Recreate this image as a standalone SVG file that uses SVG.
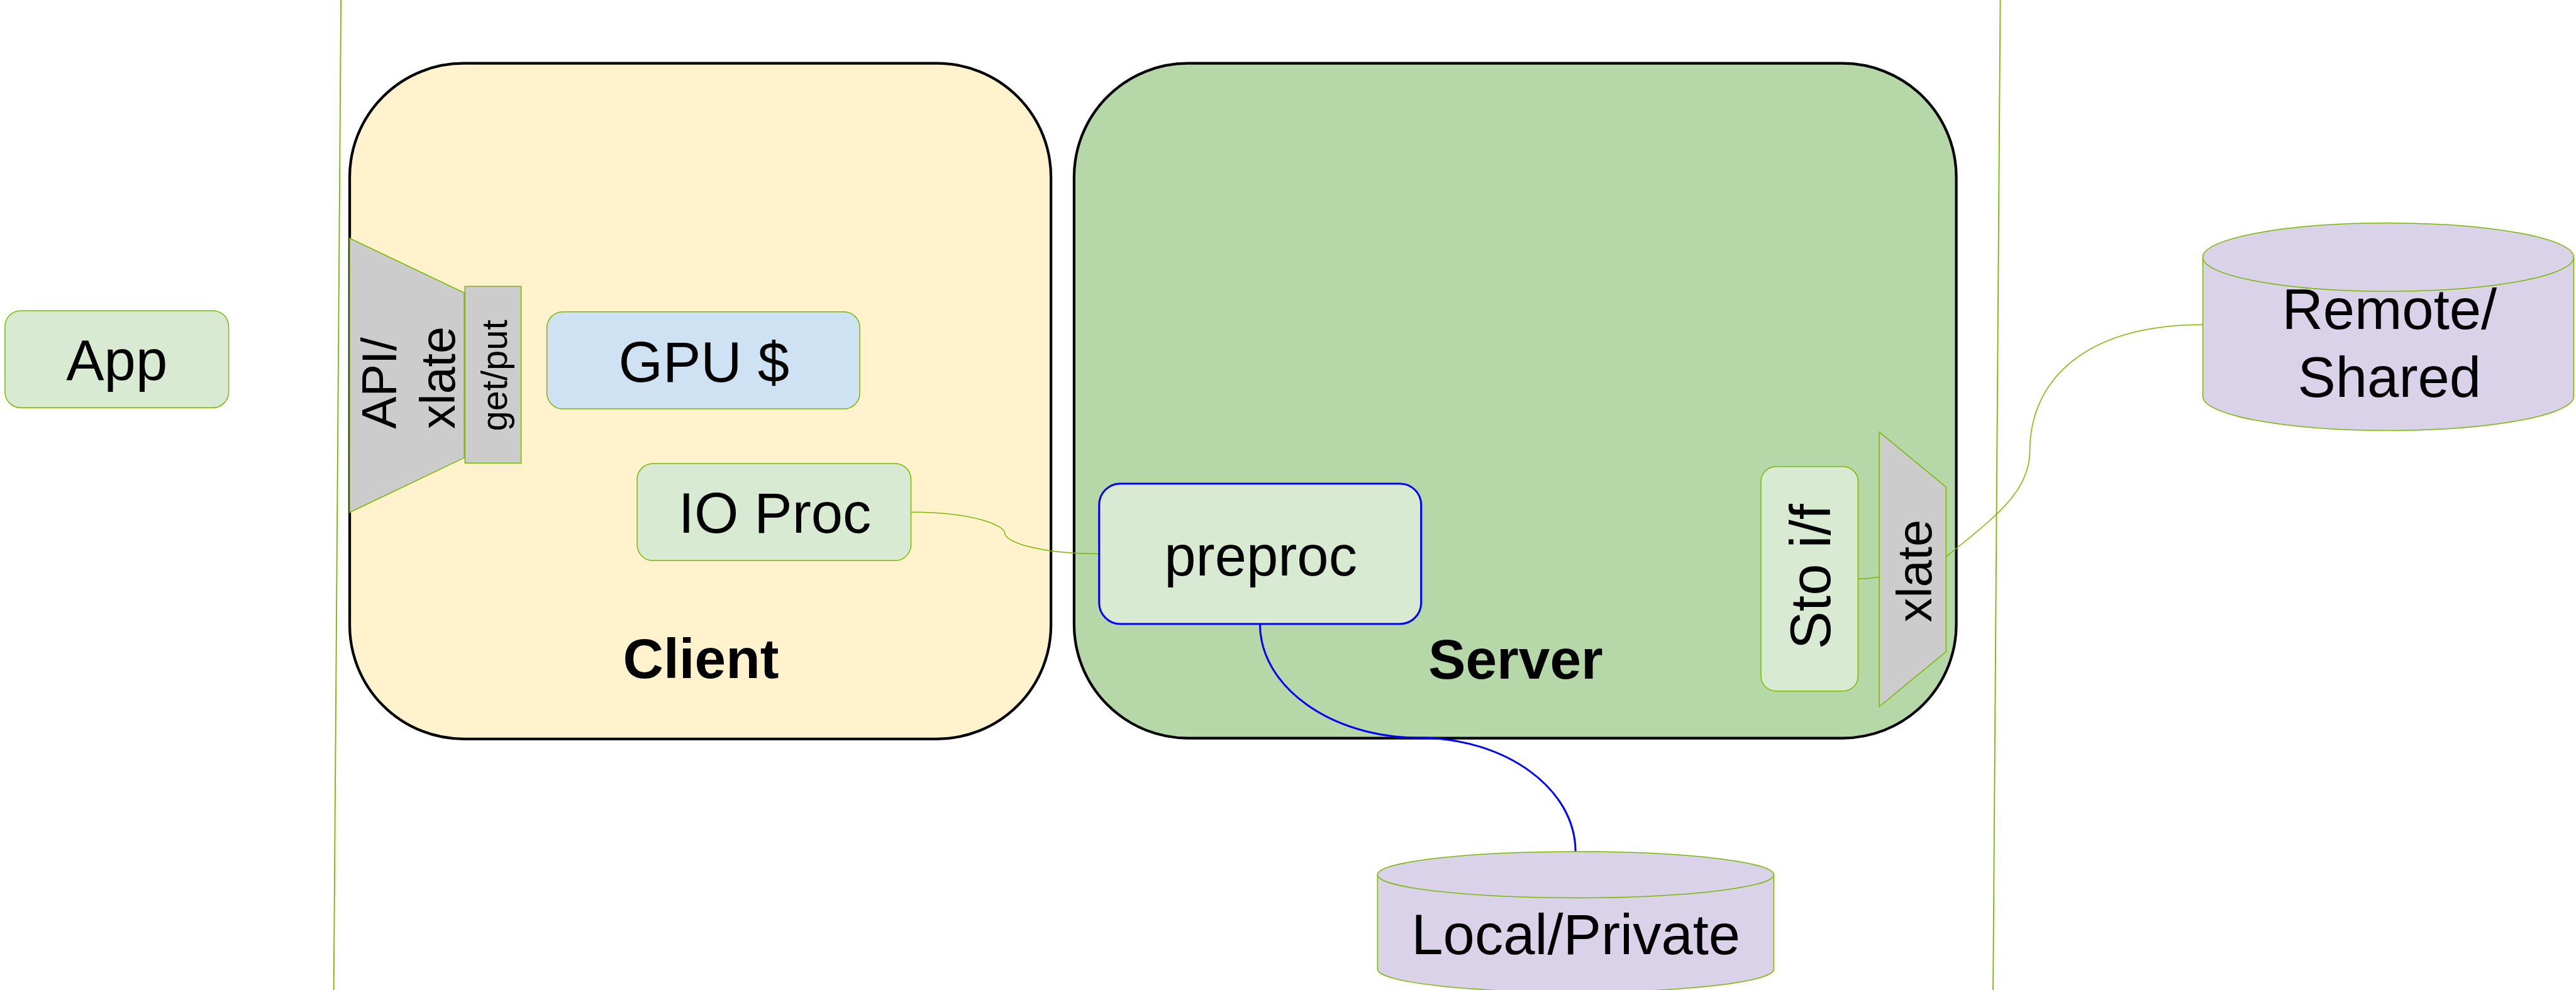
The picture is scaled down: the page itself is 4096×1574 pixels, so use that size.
<svg xmlns="http://www.w3.org/2000/svg" width="4096" height="1574" viewBox="0 0 4096 1574">
  <defs>
    <style>
      .txt { font-family: "Liberation Sans", Arial, sans-serif; fill: #000; }
      .lbl { font-size: 150px; text-anchor: middle; }
      .bold { font-weight: bold; font-size: 148px; text-anchor: middle; }
      .container { stroke: #000; stroke-width: 7; }
      .node { stroke: #7AB800; stroke-width: 2.5; }
      .green-fill { fill: #D9EAD3; }
      .grey { fill: #CCCCCC; }
      .db { fill: #D9D2E9; }
      .gpu { fill: #CFE2F3; }
      .edge-green { fill: none; stroke: #7AB800; stroke-width: 2.5; }
      .edge-blue { fill: none; stroke: #0000FF; stroke-width: 5; }
      .divider { stroke: #7AB800; stroke-width: 3; fill: none; }
    </style>
  </defs>
  <rect width="4096" height="1574" fill="#FFFFFF"/>
  <g transform="scale(0.603063)">
    <!-- tier dividers -->
    <g id="dividers">
      <line class="divider" x1="899" y1="0" x2="880" y2="2610"/>
      <line class="divider" x1="5274" y1="0" x2="5255" y2="2610"/>
    </g>

    <!-- containers -->
    <g id="client">
      <rect class="container" x="922" y="167" width="1849" height="1781" rx="300" ry="300" fill="#FFF2CC"/>
      <text class="txt bold" x="1848" y="1787">Client</text>
    </g>
    <g id="server">
      <rect class="container" x="2832" y="167" width="2326" height="1779" rx="300" ry="300" fill="#B6D7A8"/>
      <text class="txt bold" x="3996" y="1789">Server</text>
    </g>

    <!-- connectors -->
    <g id="connectors">
      <path class="edge-green" d="M2402,1350 C2565,1350 2649,1385 2649,1405 C2649,1428 2735,1460 2898,1460"/>
      <path class="edge-blue" d="M3322,1645 C3322,1811 3510,1945 3741,1945 C3969,1945 4154,2079 4154,2245"/>
      <path class="edge-green" d="M4899,1526 C4925,1526 4940,1523 4955,1521"/>
      <path class="edge-green" d="M5131,1468 C5250,1370 5352,1300 5352,1189 C5352,1000 5500,856 5808,856"/>
    </g>

    <g id="app">
      <rect class="node green-fill" x="13" y="819" width="590" height="256" rx="42" ry="42"/>
      <text class="txt lbl" x="308" y="1002">App</text>
    </g>

    <g id="api-xlate">
      <polygon class="node grey" points="922,628 1224,772 1224,1207 922,1351"/>
      <text class="txt" font-size="128" transform="translate(1044,1131) rotate(-90)">API/</text>
      <text class="txt" font-size="128" transform="translate(1199,1131) rotate(-90)">xlate</text>
    </g>

    <g id="get-put">
      <rect class="node grey" x="1226" y="755" width="148" height="466"/>
      <text class="txt" font-size="96" text-anchor="middle" transform="translate(1336,990) rotate(-90)">get/put</text>
    </g>

    <g id="gpu-cache">
      <rect class="node gpu" x="1442" y="822" width="825" height="256" rx="42" ry="42"/>
      <text class="txt lbl" x="1856" y="1007">GPU $</text>
    </g>

    <g id="io-proc">
      <rect class="node green-fill" x="1680" y="1222" width="722" height="256" rx="42" ry="42"/>
      <text class="txt lbl" x="2043" y="1405">IO Proc</text>
    </g>

    <g id="preproc">
      <rect class="green-fill" x="2898" y="1275" width="849" height="370" rx="56" ry="56" stroke="#0000FF" stroke-width="5"/>
      <text class="txt lbl" x="3324" y="1517">preproc</text>
    </g>

    <g id="sto-if">
      <rect class="node green-fill" x="4643" y="1230" width="256" height="592" rx="40" ry="40"/>
      <text class="txt" font-size="150" text-anchor="middle" transform="translate(4826,1520) rotate(-90)">Sto i/f</text>
    </g>

    <g id="xlate-out">
      <polygon class="node grey" points="4955,1139 5131,1284 5131,1718 4955,1863"/>
      <text class="txt" font-size="128" text-anchor="middle" transform="translate(5092,1505) rotate(-90)">xlate</text>
    </g>

    <g id="remote-shared">
      <path class="node db" d="M5808,678 A489,90 0 0 1 6786,678 L6786,1045 A489,90 0 0 1 5808,1045 Z"/>
      <path class="node" fill="none" d="M5808,678 A489,90 0 0 0 6786,678"/>
      <text class="txt lbl" x="6300" y="868">Remote/</text>
      <text class="txt lbl" x="6300" y="1047">Shared</text>
    </g>

    <g id="local-private">
      <path class="node db" d="M3632,2306 A522.5,61 0 0 1 4677,2306 L4677,2555 A522.5,61 0 0 1 3632,2555 Z"/>
      <path class="node" fill="none" d="M3632,2306 A522.5,61 0 0 0 4677,2306"/>
      <text class="txt lbl" x="4155" y="2516">Local/Private</text>
    </g>
  </g>
</svg>
